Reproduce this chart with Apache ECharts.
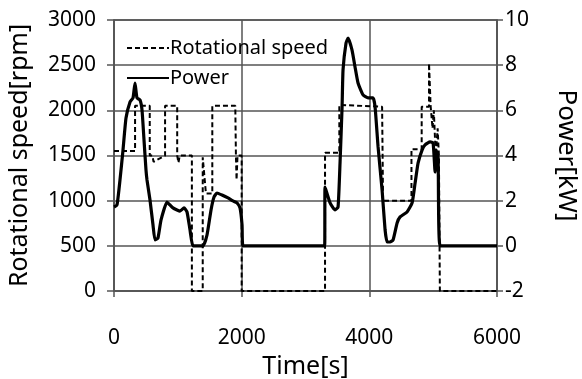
<!DOCTYPE html>
<html><head><meta charset="utf-8">
<script src="https://cdn.jsdelivr.net/npm/echarts@6/dist/echarts.min.js"></script>
<style>html,body{margin:0;padding:0;background:#fff}#c{width:582px;height:379px}</style>
</head><body><div id="c"></div>
<script>
// Rotational speed [rpm] (dashed)
const speedTime = [0,330,330,560,560,600,620,800,800,990,990,1010,1030,1220,1220,1390,1390,1420,1440,1540,1540,1900,1910,1920,1935,1950,2000,2000,3306,3306,3530,3530,4200,4215,4215,4660,4660,4820,4820,4935,4935,4960,4990,5010,5040,5070,5090,5105,5105,6000];
const speedVal  = [1550,1550,2050,2050,1500,1500,1430,1500,2050,2050,1500,1420,1500,1500,0,0,1480,1480,1080,1080,2050,2050,1500,1230,1500,1500,1500,0,0,1530,1530,2060,2040,2040,1000,1000,1570,1570,2040,2040,2520,2050,1800,2000,1500,1800,1500,1500,0,0];
// Power [kW] (solid)
const powerTime = [0,47,94,141,188,251,298,329,360,407,439,470,501,517,564,611,642,689,736,830,877,924,987,1034,1097,1144,1191,1238,1395,1457,1520,1567,1614,1692,1786,1864,1927,1974,2006,2021,3300,3306,3385,3463,3510,3541,3573,3588,3635,3667,3729,3776,3823,3902,3980,4059,4090,4137,4200,4247,4278,4325,4372,4435,4482,4591,4670,4717,4764,4826,4873,4952,4999,5030,5046,5077,5108,6000];
const powerVal  = [1.72,1.81,2.92,4.24,5.66,6.37,6.55,7.21,6.55,6.46,6.01,4.69,3.36,2.92,2.03,0.92,0.26,0.35,1.14,1.94,1.81,1.68,1.59,1.54,1.68,1.50,0.70,0,0,0.48,1.59,2.16,2.34,2.25,2.12,1.99,1.90,1.68,0.92,0,0,2.60,1.90,1.59,1.72,3.67,6.15,7.79,8.98,9.20,8.67,7.92,7.21,6.68,6.55,6.55,6.15,4.38,2.47,0.70,0.17,0.17,0.26,1.01,1.28,1.50,1.90,2.78,3.67,4.24,4.47,4.60,4.55,3.27,4.24,3.93,0,0];
const xTicks = [0,2000,4000,6000];
const leftTicks = [0,500,1000,1500,2000,2500,3000];
const rightTicks = [-2,0,2,4,6,8,10];

const font = '"Noto Sans", sans-serif';
const gridCol = '#555';
const plain = v => String(v);
const chart = echarts.init(document.getElementById('c'), null, {renderer:'canvas'});
chart.setOption({
  animation:false,
  backgroundColor:'#fff',
  grid:{left:114,right:85,top:20,bottom:88,containLabel:false,outerBoundsMode:'none',show:true,borderColor:gridCol,borderWidth:1.5,backgroundColor:'transparent'},
  legend:{
    left:121, top:33, orient:'vertical', itemWidth:42, itemHeight:14, itemGap:10,
    itemStyle:{color:'rgba(0,0,0,0)',borderColor:'rgba(0,0,0,0)',borderWidth:0},
    textStyle:{fontFamily:font,fontSize:20,color:'#000',padding:[0,0,0,-4]},
    data:['Rotational speed','Power']
  },
  xAxis:{
    type:'value', min:xTicks[0], max:xTicks[xTicks.length-1], interval:2000,
    name:'Time[s]', nameLocation:'middle', nameGap:46,
    nameTextStyle:{fontFamily:font,fontSize:25,color:'#000'},
    axisLine:{show:true,lineStyle:{color:gridCol,width:1.5}},
    axisTick:{show:true,inside:false,length:6,lineStyle:{color:gridCol,width:1.5}},
    axisLabel:{margin:37,fontFamily:font,fontSize:21,color:'#000',formatter:plain},
    splitLine:{show:true,lineStyle:{color:gridCol,width:1.5}}
  },
  yAxis:[{
    type:'value', min:leftTicks[0], max:leftTicks[leftTicks.length-1], interval:500,
    name:'Rotational speed[rpm]', nameLocation:'middle', nameGap:82, nameRotate:90,
    nameTextStyle:{fontFamily:font,fontSize:25,color:'#000'},
    axisLine:{show:true,lineStyle:{color:gridCol,width:1.5}},
    axisTick:{show:true,length:7,lineStyle:{color:gridCol,width:1.5}},
    axisLabel:{margin:18,fontFamily:font,fontSize:21,color:'#000',formatter:plain},
    splitLine:{show:true,lineStyle:{color:gridCol,width:1.5}}
  },{
    type:'value', min:rightTicks[0], max:rightTicks[rightTicks.length-1], interval:2,
    position:'right',
    name:'Power[kW]', nameLocation:'middle', nameGap:56, nameRotate:-90,
    nameTextStyle:{fontFamily:font,fontSize:26,color:'#000'},
    axisLine:{show:true,lineStyle:{color:gridCol,width:1.5}},
    axisTick:{show:true,length:6,lineStyle:{color:gridCol,width:1.5}},
    axisLabel:{margin:8,fontFamily:font,fontSize:21,color:'#000',formatter:plain},
    splitLine:{show:false}
  }],
  series:[{
    name:'Rotational speed', type:'line', yAxisIndex:0, symbol:'none',
    data:speedTime.map((t,i)=>[t,speedVal[i]]),
    lineStyle:{color:'#000',width:2,type:[5,3]}, itemStyle:{color:'#000'}, z:3
  },{
    name:'Power', type:'line', yAxisIndex:1, symbol:'none', smooth:0.15,
    data:powerTime.map((t,i)=>[t,powerVal[i]]),
    lineStyle:{color:'#000',width:3.2}, itemStyle:{color:'#000'}, z:4
  }]
});
</script></body></html>
